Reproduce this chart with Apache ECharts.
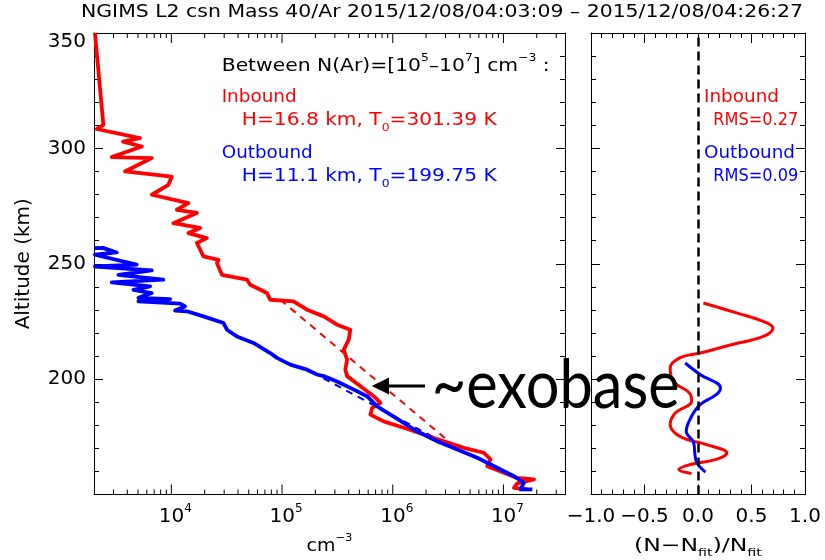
<!DOCTYPE html>
<html><head><meta charset="utf-8">
<script src="https://cdn.jsdelivr.net/npm/echarts@6/dist/echarts.min.js"></script>
<style>html,body{margin:0;padding:0;background:#fff}#c{width:825px;height:560px}</style>
</head><body><div id="c"></div>
<script>
// ---------- data ----------
const inboundN = [2040, 2430, 2115, 5210, 3660, 5410, 2890, 6650, 3810, 10090, 9400, 6650, 14260, 11200, 17000, 10420, 18200, 14260, 20900, 17000, 19500, 26700, 25800, 28600, 48200, 51600, 73100, 78200, 127000, 168000, 238000, 314000, 414000, 400000, 361000, 387000, 373000, 387000, 511000, 673000, 774000, 651000, 628000, 828000, 1256000, 1905000, 2890000, 4385000, 6650000, 7650000, 7140000, 10100000, 13340000, 18880000, 13340000, 12440000, 16440000];
const inboundAlt = [350, 310.2, 308.4, 304.4, 302.9, 300.8, 296.2, 295.8, 290.0, 287.8, 284.2, 279.9, 276.3, 273.4, 272.0, 267.6, 265.5, 263.3, 261.1, 259.0, 253.2, 251.7, 250.3, 245.2, 243.1, 240.9, 237.3, 234.4, 233.7, 230.1, 227.2, 223.6, 221.4, 217.1, 212.8, 208.4, 204.1, 201.3, 196.9, 192.6, 189.7, 187.5, 184.6, 181.7, 178.9, 176.0, 173.1, 170.2, 168.1, 165.2, 162.3, 159.4, 157.2, 156.5, 154.8, 152.9, 152.2];
const outboundN = [2040, 2410, 3210, 2040, 4860, 2040, 6650, 3320, 8470, 2890, 6430, 4540, 6650, 5040, 9750, 5040, 12000, 13300, 10800, 13800, 19500, 29600, 31800, 39100, 55200, 78200, 89900, 118600, 168000, 207000, 238000, 314000, 414000, 586000, 722000, 953000, 1256000, 1660000, 2520000, 3820000, 5800000, 8790000, 12440000, 15310000, 14290000, 18240000];
const outboundAlt = [256.8, 256.9, 254.9, 253.9, 249.6, 248.8, 247.1, 245.2, 243.1, 241.9, 240.2, 238.7, 237.3, 235.2, 234.7, 233.7, 232.7, 231.5, 229.7, 229.4, 227.2, 224.3, 221.4, 218.5, 215.7, 211.3, 209.2, 206.3, 204.1, 202.0, 201.3, 199.0, 196.2, 192.6, 188.2, 184.6, 181.0, 177.4, 173.1, 169.5, 165.9, 161.6, 157.9, 155.1, 152.2, 152.2];
const inboundFitN = [96400, 3330000];
const inboundFitAlt = [234.4, 172.4];
const outboundFitN = [186000, 2307000];
const outboundFitAlt = [203.0, 175.0];
const inboundResid = [0.05, 0.36, 0.61, 0.70, 0.61, 0.33, 0.02, -0.17, -0.26, -0.23, -0.07, -0.06, -0.21, -0.26, -0.17, 0.08, 0.27, 0.17, -0.07, -0.18, -0.06];
const inboundResidAlt = [233.0, 228.7, 225.0, 222.2, 218.5, 215.1, 211.3, 209.2, 204.8, 199.0, 193.3, 190.4, 185.4, 180.3, 175.2, 171.6, 168.0, 165.2, 163.0, 160.8, 159.1];
const outboundResid = [-0.12, 0.02, 0.21, 0.17, 0.02, -0.06, -0.11, -0.04, -0.03, -0.01, 0.07];
const outboundResidAlt = [207.0, 202.0, 196.2, 193.3, 189.0, 183.9, 177.4, 172.4, 168.0, 163.7, 159.7];
const densityTickValues = [1e4, 1e5, 1e6, 1e7];
const densityTickExponents = ['4', '5', '6', '7'];
const altitudeTickLabels = [200, 250, 300, 350];

// ---------- layout ----------
const FONT = 'DejaVu Sans';
const RED = '#ff0000', BLUE = '#0000ff';
const yMin = 150, yMax = 350;
const nMin = 2000, nMax = 3.6e7;
const zip = (a, b) => a.map((v, i) => [v, b[i]]);

// log-axis tick list: majors at powers of ten, minors at 2..9 x 10^k
const logTicks = [];
for (let e = 3; e <= 7; e++) {
  for (let m = 1; m <= 9; m++) {
    const v = m * Math.pow(10, e);
    if (v > nMin && v < nMax) {
      const idx = densityTickValues.indexOf(v);
      logTicks.push([v, idx >= 0 ? 1 : 0, idx]);
    }
  }
}

const ctx = document.createElement('canvas').getContext('2d');
function measure(t, px, fam) { ctx.font = px + 'px "' + (fam || FONT) + '"'; return ctx.measureText(t).width; }

const BASE = 18, SMALL = 11;
const richStyles = (color) => ({
  n: { fontFamily: FONT, fontSize: BASE, lineHeight: 26, verticalAlign: 'middle', fill: color },
  p: { fontFamily: FONT, fontSize: SMALL, lineHeight: 13, verticalAlign: 'top', fill: color },
  b: { fontFamily: FONT, fontSize: SMALL, lineHeight: 13, verticalAlign: 'bottom', fill: color }
});
function idlText(segs, x, y, color, target, align) {
  let str = '', w = 0;
  segs.forEach(([t, k]) => {
    const st = k === 1 ? 'p' : k === 2 ? 'b' : 'n';
    str += '{' + st + '|' + t + '}';
    w += measure(t, k ? SMALL : BASE);
  });
  const s = target ? target / w : 1.1;
  return {
    type: 'text', x: x, y: y, scaleX: s, z: 50,
    style: { text: str, rich: richStyles(color), align: align || 'left', verticalAlign: 'middle', fill: color }
  };
}

const titleText = 'NGIMS L2 csn Mass 40/Ar 2015/12/08/04:03:09 \u2013 2015/12/08/04:26:27';
const exoText = '~exobase';
const exoFam = 'Lato';
const exoPx = 68;
const exoScale = 248 / measure(exoText, exoPx, exoFam);

const chart = echarts.init(document.getElementById('c'), null, { renderer: 'canvas' });

const tickStyle = { color: '#000', width: 1 };
const axisLineStyle = { show: true, onZero: false, lineStyle: { color: '#000', width: 1 } };

const option = {
  animation: false,
  backgroundColor: '#fff',
  grid: [
    { left: 94, top: 33, width: 471, bottom: 65.5 },
    { left: 591, top: 33, width: 214, bottom: 65.5 }
  ],
  xAxis: [
    { type: 'log', logBase: 10, gridIndex: 0, min: nMin, max: nMax, position: 'bottom',
      axisLine: axisLineStyle, axisTick: { show: false }, axisLabel: { show: false }, splitLine: { show: false }, minorTick: { show: false } },
    { type: 'log', logBase: 10, gridIndex: 0, min: nMin, max: nMax, position: 'top',
      axisLine: axisLineStyle, axisTick: { show: false }, axisLabel: { show: false }, splitLine: { show: false } },
    { type: 'value', gridIndex: 1, min: -1, max: 1, interval: 0.5, position: 'bottom',
      axisLine: axisLineStyle, axisTick: { show: true, inside: true, length: 10, lineStyle: tickStyle },
      minorTick: { show: true, splitNumber: 5, length: 5, lineStyle: tickStyle },
      axisLabel: { show: true, margin: 12, color: '#000', fontFamily: FONT, fontSize: 20,
        formatter: v => (v < 0 ? '\u2212' : '') + Math.abs(v).toFixed(1) },
      splitLine: { show: false } },
    { type: 'value', gridIndex: 1, min: -1, max: 1, interval: 0.5, position: 'top',
      axisLine: axisLineStyle, axisTick: { show: true, inside: true, length: 10, lineStyle: tickStyle },
      minorTick: { show: true, splitNumber: 5, length: 5, lineStyle: tickStyle },
      axisLabel: { show: false }, splitLine: { show: false } }
  ],
  yAxis: [
    { type: 'value', gridIndex: 0, min: yMin, max: yMax, interval: 50, position: 'left',
      axisLine: axisLineStyle, axisTick: { show: true, inside: true, length: 9, lineStyle: tickStyle },
      minorTick: { show: true, splitNumber: 5, length: 5, lineStyle: tickStyle },
      axisLabel: { show: true, margin: 8, color: '#000', fontFamily: FONT, fontSize: 20,
        formatter: v => altitudeTickLabels.indexOf(v) < 0 ? '' : (v === yMax ? '{t|' + v + '}' : String(v)),
        rich: { t: { fontFamily: FONT, fontSize: 20, color: '#000', padding: [18, 0, 0, 0] } } },
      name: 'Altitude (km)', nameLocation: 'middle', nameGap: 60, nameRotate: 90,
      nameTextStyle: { color: '#000', fontFamily: FONT, fontSize: 20 },
      splitLine: { show: false } },
    { type: 'value', gridIndex: 0, min: yMin, max: yMax, interval: 50, position: 'right',
      axisLine: axisLineStyle, axisTick: { show: true, inside: true, length: 9, lineStyle: tickStyle },
      minorTick: { show: true, splitNumber: 5, length: 5, lineStyle: tickStyle },
      axisLabel: { show: false }, splitLine: { show: false } },
    { type: 'value', gridIndex: 1, min: yMin, max: yMax, interval: 50, position: 'left',
      axisLine: axisLineStyle, axisTick: { show: true, inside: true, length: 9, lineStyle: tickStyle },
      minorTick: { show: true, splitNumber: 5, length: 5, lineStyle: tickStyle },
      axisLabel: { show: false }, splitLine: { show: false } },
    { type: 'value', gridIndex: 1, min: yMin, max: yMax, interval: 50, position: 'right',
      axisLine: axisLineStyle, axisTick: { show: true, inside: true, length: 9, lineStyle: tickStyle },
      minorTick: { show: true, splitNumber: 5, length: 5, lineStyle: tickStyle },
      axisLabel: { show: false }, splitLine: { show: false } }
  ],
  series: [
    { name: 'Inbound fit', type: 'line', xAxisIndex: 0, yAxisIndex: 0, data: zip(inboundFitN, inboundFitAlt),
      showSymbol: false, symbol: 'none', z: 2, silent: true,
      lineStyle: { color: RED, width: 2, type: [7, 6] } },
    { name: 'Outbound fit', type: 'line', xAxisIndex: 0, yAxisIndex: 0, data: zip(outboundFitN, outboundFitAlt),
      showSymbol: false, symbol: 'none', z: 2, silent: true,
      lineStyle: { color: BLUE, width: 2, type: [7, 6] } },
    { name: 'Inbound', type: 'line', xAxisIndex: 0, yAxisIndex: 0, data: zip(inboundN, inboundAlt),
      showSymbol: false, symbol: 'none', z: 3, silent: true, clip: true,
      lineStyle: { color: RED, width: 3.8, join: 'round' } },
    { name: 'Outbound', type: 'line', xAxisIndex: 0, yAxisIndex: 0, data: zip(outboundN, outboundAlt),
      showSymbol: false, symbol: 'none', z: 4, silent: true, clip: true,
      lineStyle: { color: BLUE, width: 3.8, join: 'round' } },
    { name: 'logTicks', type: 'custom', xAxisIndex: 0, yAxisIndex: 0, data: logTicks, silent: true, z: 10,
      encode: { x: 0 },
      renderItem: (params, api) => {
        const v = api.value(0), major = api.value(1) === 1, li = api.value(2);
        const pb = api.coord([v, yMin]), pt = api.coord([v, yMax]);
        const len = major ? 10 : 5;
        const ch = [
          { type: 'line', shape: { x1: pb[0], y1: pb[1], x2: pb[0], y2: pb[1] - len }, style: { stroke: '#000', lineWidth: 1 } },
          { type: 'line', shape: { x1: pt[0], y1: pt[1], x2: pt[0], y2: pt[1] + len }, style: { stroke: '#000', lineWidth: 1 } }
        ];
        if (major) {
          ch.push({ type: 'text', x: pb[0] + 4, y: pb[1] + 22,
            style: { text: '{n|10}{p|' + densityTickExponents[li] + '}', align: 'center', verticalAlign: 'middle',
              rich: { n: { fontFamily: FONT, fontSize: 20, lineHeight: 28, verticalAlign: 'middle', fill: '#000' },
                      p: { fontFamily: FONT, fontSize: 12, lineHeight: 14, verticalAlign: 'top', fill: '#000' } } } });
        }
        return { type: 'group', children: ch };
      } },
    { name: 'Inbound residual', type: 'line', xAxisIndex: 2, yAxisIndex: 2, data: zip(inboundResid, inboundResidAlt),
      showSymbol: false, symbol: 'none', smooth: 0.4, z: 3, silent: true,
      lineStyle: { color: RED, width: 3 },
      markLine: { silent: true, symbol: ['none', 'none'], label: { show: false }, emphasis: { disabled: true },
        lineStyle: { color: '#000', width: 2.5, type: [9, 5] }, data: [{ xAxis: 0 }] } },
    { name: 'Outbound residual', type: 'line', xAxisIndex: 2, yAxisIndex: 2, data: zip(outboundResid, outboundResidAlt),
      showSymbol: false, symbol: 'none', smooth: 0.4, z: 4, silent: true,
      lineStyle: { color: BLUE, width: 3 } }
  ],
  graphic: [
    { type: 'text', x: 442, y: 12, z: 50, scaleX: 722 / measure(titleText, BASE),
      style: { text: titleText, fontSize: BASE, fontFamily: FONT, fill: '#000', align: 'center', verticalAlign: 'middle' } },
    idlText([['Between N(Ar)=[10', 0], ['5', 1], ['\u201310', 0], ['7', 1], ['] cm', 0], ['\u22123', 1], [' :', 0]], 221.7, 66, '#000', 328),
    idlText([['Inbound', 0]], 221.7, 97.5, RED, 75),
    idlText([['H=16.8 km, T', 0], ['0', 2], ['=301.39 K', 0]], 241.7, 120.5, RED, 255),
    idlText([['Outbound', 0]], 221.7, 153.5, BLUE, 91),
    idlText([['H=11.1 km, T', 0], ['0', 2], ['=199.75 K', 0]], 241.7, 176.5, BLUE, 255),
    idlText([['Inbound', 0]], 704, 97.5, RED, 75),
    idlText([['RMS=0.27', 0]], 713.3, 120.5, RED, 85),
    idlText([['Outbound', 0]], 704, 153.5, BLUE, 91),
    idlText([['RMS=0.09', 0]], 713.3, 176.5, BLUE, 85),
    idlText([['cm', 0], ['\u22123', 1]], 329.5, 546, '#000', 46, 'center'),
    idlText([['(N\u2212N', 0], ['fit', 2], [')/N', 0], ['fit', 2]], 698, 546, '#000', 128, 'center'),
    // arrow and big annotation
    { type: 'line', z: 60, shape: { x1: 425, y1: 386, x2: 386, y2: 386 }, style: { stroke: '#000', lineWidth: 3 } },
    { type: 'polygon', z: 60, shape: { points: [[371.7, 386], [389, 377.5], [389, 394.5]] }, style: { fill: '#000' } },
    { type: 'text', x: 431.7, y: 386, z: 60, scaleX: exoScale,
      style: { text: exoText, fontSize: exoPx, fontFamily: exoFam, fill: '#000', align: 'left', verticalAlign: 'middle' } }
  ]
};
chart.setOption(option);
</script>
</body></html>
